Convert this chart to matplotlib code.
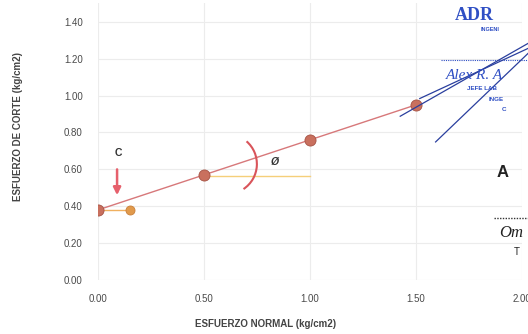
import matplotlib
matplotlib.use("Agg")
import matplotlib.pyplot as plt
from matplotlib.patches import Arc
from matplotlib.lines import Line2D

plt.rcParams['font.family'] = ['Liberation Sans', 'DejaVu Sans']

# ==========================
# datos del ensayo
# ==========================
esfuerzo_normal = [0.00, 0.50, 1.00, 1.50]
esfuerzo_corte = [0.38, 0.57, 0.76, 0.95]

# cohesion (tramo horizontal naranja)
c_x = [0.00, 0.15]
c_y = [0.38, 0.38]

# referencia horizontal para el angulo
phi_x = [0.50, 1.00]
phi_y = [0.565, 0.565]

x_ticks = [0.0, 0.5, 1.0, 1.5, 2.0]
y_ticks = [0.0, 0.2, 0.4, 0.6, 0.8, 1.0, 1.2, 1.4]

# ==========================
# figura
# ==========================
fig = plt.figure(figsize=(5.28, 3.34), dpi=100)
ax = fig.add_axes([0.1856, 0.1617, 0.803, 0.828])

ax.set_xlim(0, 2.0)
ax.set_ylim(0, 1.5)
ax.set_xticks(x_ticks)
ax.set_yticks(y_ticks)
ax.set_xticklabels([f"{v:.2f}" for v in x_ticks])
ax.set_yticklabels([f"{v:.2f}" for v in y_ticks])
ax.tick_params(length=0, labelsize=7, labelcolor='#4a4a4a')
ax.tick_params(axis='y', pad=11)
ax.tick_params(axis='x', pad=10)
for s in ax.spines.values():
    s.set_visible(False)
ax.grid(True, color='#ececec', lw=0.8)
ax.set_axisbelow(True)

# lineas
ax.plot(c_x, c_y, color='#f0b060', lw=1.0, zorder=2)
ax.plot(phi_x, phi_y, color='#f5cf7a', lw=1.0, zorder=2)
ax.plot(esfuerzo_normal, esfuerzo_corte, color='#d7787a', lw=1.0, zorder=3)

# puntos
ax.plot(c_x[1:], c_y[1:], 'o', ms=6.5, color='#e19a4c', mec='#c97f38', mew=0.6, zorder=4)
ax.plot(esfuerzo_normal, esfuerzo_corte, 'o', ms=8, color='#c9705e',
        mec='#a55345', mew=0.6, zorder=5)

# angulo phi
ax.add_patch(Arc((0.608, 0.629), 0.283, 0.326, theta1=-60, theta2=53,
                 color='#d9545a', lw=1.5, zorder=6))
ax.text(0.835, 0.64, 'Ø', fontsize=7.5, fontweight='bold', color='#333333',
        ha='center', va='center', style='italic')

# cohesion C
ax.annotate('', xy=(0.09, 0.445), xytext=(0.09, 0.615),
            arrowprops=dict(arrowstyle='-|>', color='#e6606c', lw=1.8,
                            mutation_scale=11))
ax.text(0.094, 0.69, 'C', fontsize=7.5, fontweight='bold', color='#333333',
        ha='center', va='center')

# titulos de ejes
fig.text(0.034, 0.62, 'ESFUERZO DE CORTE (kg/cm2)', rotation=90, fontsize=7,
         fontweight='bold', color='#444444', ha='center', va='center')
fig.text(0.503, 0.03, 'ESFUERZO NORMAL (kg/cm2)', fontsize=7,
         fontweight='bold', color='#444444', ha='center', va='center')

# ==========================
# sello y firmas (escaneo)
# ==========================
azul = '#2f4fc4'
fig.text(0.862, 0.955, 'ADR', fontsize=13, color=azul, family='Liberation Serif',
         fontweight='bold', va='center')
fig.text(0.91, 0.912, 'INGENI', fontsize=4, color=azul, fontweight='bold', va='center')
fig.add_artist(Line2D([0.835, 1.0], [0.82, 0.82], transform=fig.transFigure,
                      color=azul, lw=0.8, ls=(0, (1, 1))))
fig.text(0.845, 0.775, 'Alex R. A', fontsize=11, color=azul, family='Liberation Serif',
         style='italic', va='center')
fig.text(0.885, 0.735, 'JEFE LAB', fontsize=4.5, color=azul, fontweight='bold', va='center')
fig.text(0.925, 0.702, 'INGE', fontsize=4.5, color=azul, fontweight='bold', va='center')
fig.text(0.950, 0.672, 'C', fontsize=4.5, color=azul, fontweight='bold', va='center')
for xs, ys in [([0.758, 1.0], [0.652, 0.87]),
               ([0.795, 1.0], [0.705, 0.855]),
               ([0.825, 1.0], [0.575, 0.84])]:
    fig.add_artist(Line2D(xs, ys, transform=fig.transFigure, color='#2a3f9e', lw=0.9))

fig.text(0.94, 0.485, 'A', fontsize=12, color='#222222', fontweight='bold', va='center')
fig.add_artist(Line2D([0.935, 1.0], [0.347, 0.347], transform=fig.transFigure,
                      color='#333333', lw=1.0, ls=(0, (1, 1))))
fig.text(0.945, 0.303, 'Om', fontsize=12, color='#222222', family='Liberation Serif',
         style='italic', va='center')
fig.text(0.973, 0.245, 'T', fontsize=7, color='#222222', va='center')

fig.savefig('out.png', dpi=100)
